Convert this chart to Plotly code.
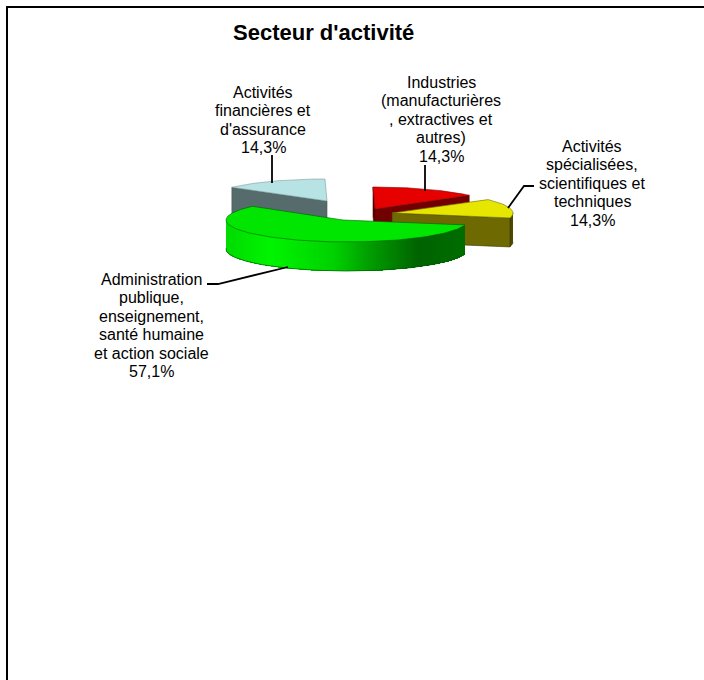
import numpy as np
import plotly.graph_objects as go

# data, in pie order (clockwise from the top)
sectors = [["Industries", "(manufacturières", ", extractives et", "autres)"],
           ["Activités", "spécialisées,", "scientifiques et", "techniques"],
           ["Administration", "publique,", "enseignement,", "santé humaine", "et action sociale"],
           ["Activités", "financières et", "d'assurance"]]
shares = [14.3, 14.3, 57.1, 14.3]
title = "Secteur d'activité"

# look of the slices
face_colors = ["#e60000", "#e6e600", "#00e600", "#b7e3e4"]
side_colors = ["#730000", "#6e6900", "#00a000", "#566b6c"]
edge_colors = ["#8a0000", "#6e6a00", "#006000", "#7f9a9b"]
# slice tip in pixels (exploded pie, every slice has its own)
tip_x = [375, 392, 343, 327]
tip_y = [209, 213, 220, 201]
rim_dx = [0, 0, 4, 0]
lean = [2, 0, 0, 2]
rx = [122, 121, 121, 120]
ry = 22
depth = 29

label_x = [441, 592, 151, 263]
label_top = [82, 146, 279, 92]  # y of the first line
line_step = 18.5
leaders = [
    [(425, 165), (425, 191)],
    [(508, 208), (524, 186), (534, 186)],
    [(288, 267), (218, 284), (207, 284)],
    [(272, 155), (272, 183)],
]

# brightness of the green wall along x
wall_x = [227, 270, 333, 367, 417, 465]
wall_g = [220, 245, 210, 160, 100, 110]


def rim(i, a0, a1):
    t = np.radians(np.linspace(a0, a1, max(int(abs(a1 - a0)), 2) + 1))
    x = tip_x[i] + rim_dx[i] + rx[i] * np.sin(t) - lean[i] * np.cos(t)
    y = tip_y[i] - ry * np.cos(t)
    return x, y


def poly(x, y, fill, line=None, width=0.6):
    return go.Scatter(x=list(x), y=list(y), mode="lines", fill="toself", fillcolor=fill,
                      line=dict(color=line or fill, width=width), hoverinfo="skip", showlegend=False)


fig = go.Figure()

edges = np.cumsum([0] + shares) / sum(shares) * 360

# back to front: blue, red, yellow, green
for i in [3, 0, 1, 2]:
    a0, a1 = edges[i], edges[i + 1]
    x, y = rim(i, a0, a1)

    if i == 3:
        # cut face on the left
        fig.add_trace(poly([x[0], tip_x[i], tip_x[i], x[0], x[0]],
                           [y[0], tip_y[i], tip_y[i] + depth, y[0] + depth, y[0]], side_colors[i], "#46585a"))
    if i == 0:
        fig.add_trace(poly([x[0], tip_x[i], tip_x[i], x[0], x[0]],
                           [y[0], tip_y[i], tip_y[i] + depth, y[0] + depth, y[0]], "#5a0000", "#5a0000"))
        fig.add_trace(poly([x[-1], tip_x[i], tip_x[i], x[-1], x[-1]],
                           [y[-1], tip_y[i], tip_y[i] + depth, y[-1] + depth, y[-1]], side_colors[i], "#5a0000"))
    if i == 1:
        xw, yw = rim(i, 90, a1)
        fig.add_trace(poly(list(xw) + list(xw[::-1]), list(yw) + list(yw[::-1] + depth), "#4d4a00", "#3a3800"))
        fig.add_trace(poly([x[-1], tip_x[i], tip_x[i], x[-1], x[-1]],
                           [y[-1], tip_y[i], tip_y[i] + depth, y[-1] + depth, y[-1]], side_colors[i], "#3a3800"))
    if i == 2:
        # outer wall: each strip runs to the far end and the next one paints over it, so no seams
        xw, yw = rim(i, 272, a0)
        for k in range(len(xw) - 1):
            g = int(np.interp(xw[k], wall_x, wall_g))
            c = f"rgb(0,{g},0)"
            fig.add_trace(poly(list(xw[k:]) + list(xw[k:][::-1]), list(yw[k:]) + list(yw[k:][::-1] + depth), c, c, 0))
        fig.add_trace(go.Scatter(x=xw, y=yw + depth, mode="lines", line=dict(color="#005a00", width=0.7),
                                 hoverinfo="skip", showlegend=False))

    fig.add_trace(poly([tip_x[i]] + list(x) + [tip_x[i]], [tip_y[i]] + list(y) + [tip_y[i]],
                       face_colors[i], edge_colors[i]))

# leader lines
for pts in leaders:
    fig.add_trace(go.Scatter(x=[p[0] for p in pts], y=[p[1] for p in pts], mode="lines",
                             line=dict(color="black", width=1.8), hoverinfo="skip", showlegend=False))

# one annotation per line, the line spacing of the original is tighter than plotly's
for i, name in enumerate(sectors):
    pct = f"{shares[i]:.1f}".replace(".", ",")
    for n, txt in enumerate(name + [f"{pct}%"]):
        fig.add_annotation(x=label_x[i], y=label_top[i] + n * line_step, text=txt, showarrow=False,
                           xanchor="center", yanchor="middle",
                           font=dict(family="Liberation Sans", size=16, color="black"))

fig.add_annotation(x=323, y=32, text=f"<b>{title}</b>", showarrow=False, xanchor="center", yanchor="middle",
                   font=dict(family="Liberation Sans", size=22, color="black"))

# chart frame, cut off at the right and at the bottom
fig.add_shape(type="line", x0=7, x1=7, y0=6, y1=680, line=dict(color="black", width=2))
fig.add_shape(type="line", x0=6, x1=704, y0=7, y1=7, line=dict(color="black", width=2))

fig.update_xaxes(range=[0, 704], visible=False)
fig.update_yaxes(range=[680, 0], visible=False)
fig.update_layout(width=704, height=680, margin=dict(l=0, r=0, t=0, b=0),
                  paper_bgcolor="white", plot_bgcolor="white", showlegend=False)

fig.write_html("out.html", config=dict(displayModeBar=False),
               post_script="document.body.style.margin='0';document.body.style.overflow='hidden';")
